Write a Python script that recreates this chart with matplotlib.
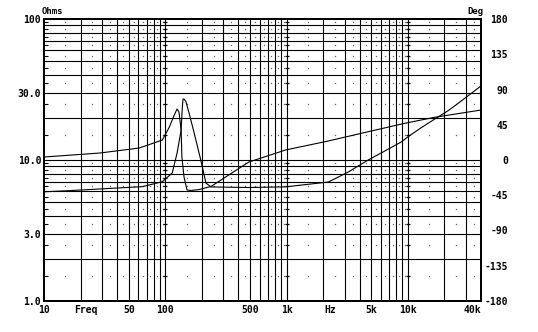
import numpy as np
import matplotlib
matplotlib.use('Agg')
import matplotlib.pyplot as plt
from matplotlib.ticker import NullFormatter

# impedance magnitude (ohms)
imp_freq = [10, 15.4, 28.8, 44.4, 64.7, 94.5, 114, 125, 135, 138, 140, 143, 148, 157, 173, 196,
            216, 238, 488, 981, 2210, 3220, 4700, 6470, 8770, 10000, 12800, 16600,
            21300, 24300, 40000]
imp_ohms = [5.95, 6.05, 6.23, 6.36, 6.47, 7.02, 8.09, 11.2, 16.3, 23.5, 27.1, 27.0, 25.9, 21.5, 15.5, 10.0,
            6.87, 6.44, 6.38, 6.45, 6.98, 8.22, 10.0, 11.6, 13.4, 14.6, 16.9, 19.5,
            22.3, 24.2, 33.5]

# phase (degrees)
ph_freq = [10, 28.8, 61, 94.5, 108, 118.5, 125, 129.6, 135, 137, 142.6, 151, 163, 190,
           238, 305, 488, 981, 2210, 4700, 9440, 16600, 40000]
ph_deg = [3.8, 8.9, 15.3, 25.5, 42.1, 57.4, 65.1, 61.3, 38.3, 3.8, -21.7, -38.3, -38.9, -37.7,
          -33.8, -23.0, -2.6, 12.8, 24.3, 36.1, 46.9, 54.5, 63.8]

x_ticks = [10, 22, 50, 100, 500, 1000, 2270, 5000, 10000, 40000]
x_labels = ['10', 'Freq', '50', '100', '500', '1k', 'Hz', '5k', '10k', '40k']
y_ticks = [1, 3, 10, 30, 100]
y_labels = ['1.0', '3.0', '10.0', '30.0', '100']
deg_ticks = [-180, -135, -90, -45, 0, 45, 90, 135, 180]

plt.rcParams['font.family'] = ['DejaVu Sans Mono']
plt.rcParams['font.weight'] = 'bold'
plt.rcParams['font.size'] = 7

fig = plt.figure(figsize=(5.38, 3.32), dpi=100)
ax = fig.add_axes([44 / 538, 31 / 332, 437 / 538, 282 / 332])
ax.set_xscale('log')
ax.set_yscale('log')
ax.set_xlim(10, 40000)
ax.set_ylim(1, 100)

# log grid, full lines on 2..9 of each decade
grid_f = [m * d for d in (10, 100, 1000, 10000) for m in range(1, 10) if 10 < m * d < 40000]
grid_o = [m * d for d in (1, 10) for m in range(2, 10)] + [10]
for f in grid_f:
    ax.axvline(f, color='black', lw=0.8, zorder=1)
for o in grid_o:
    ax.axhline(o, color='black', lw=0.8, zorder=1)

# dots at the half-way values
mid_f = [(m + 0.5) * d for d in (10, 100, 1000, 10000) for m in range(1, 10) if (m + 0.5) * d < 40000]
mid_o = [(m + 0.5) * d for d in (1, 10) for m in range(1, 10)]
FF, OO = np.meshgrid(mid_f, mid_o)
ax.plot(FF.ravel(), OO.ravel(), ls='none', marker='s', ms=0.9, mew=0, color='0.4', zorder=1)
for f in (100, 1000, 10000):
    ax.plot([f] * len(mid_o), mid_o, ls='none', marker='_', ms=3.5, mew=0.9, color='black', zorder=1)

ax.plot(imp_freq, imp_ohms, color='black', lw=0.8, zorder=3)

ax.set_xticks(x_ticks)
ax.set_xticklabels(x_labels)
ax.set_xticks([], minor=True)
ax.set_yticks(y_ticks)
ax.set_yticklabels(y_labels)
ax.set_yticks(mid_o, minor=True)
ax.yaxis.set_minor_formatter(NullFormatter())
ax.tick_params(which='major', length=0)
ax.tick_params(axis='x', pad=3)
ax.tick_params(axis='y', pad=2)
ax.tick_params(which='minor', axis='y', direction='in', length=3, width=0.8,
               left=True, right=True)
ax.get_xticklabels()[-1].set_ha('right')
for s in ax.spines.values():
    s.set_linewidth(1.3)

ax2 = ax.twinx()
ax2.set_ylim(-180, 180)
ax2.plot(ph_freq, ph_deg, color='black', lw=0.8, zorder=3)
ax2.set_yticks(deg_ticks)
ax2.set_yticklabels([str(d) for d in deg_ticks])
ax2.tick_params(length=0, pad=19.5)
for lab in ax2.get_yticklabels():
    lab.set_ha('right')
for s in ax2.spines.values():
    s.set_linewidth(1.3)

fig.text(42 / 538, 1 - 11.5 / 332, 'Ohms', ha='left', va='center', fontsize=6.5)
fig.text(483 / 538, 1 - 11.5 / 332, 'Deg', ha='right', va='center', fontsize=6.5)

fig.savefig('out.png', dpi=100, facecolor='white')
